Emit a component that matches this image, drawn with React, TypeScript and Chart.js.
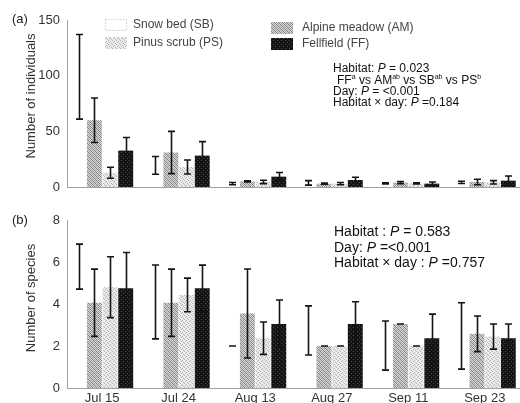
import React, { useEffect, useRef } from 'react';
import { Chart, registerables } from 'chart.js';

Chart.register(...registerables);

// ---------- data ----------
const dates = ['Jul 15', 'Jul 24', 'Aug 13', 'Aug 27', 'Sep 11', 'Sep 23'];
const seriesNames = ['Snow bed (SB)', 'Alpine meadow (AM)', 'Pinus scrub (PS)', 'Fellfield (FF)'];

// (a) number of individuals: mean and error
const indSB = [99, 19.4, 3, 3.7, 3.3, 4.2];
const indSBErr = [38, 8, 1, 2, 0.5, 1];
const indAM = [60, 31, 5, 3, 4, 4.5];
const indAMErr = [20, 19, 0.5, 0.5, 1, 2.5];
const indPS = [12.8, 18, 4.5, 3, 3.3, 4.2];
const indPSErr = [5, 6.3, 1.5, 1, 0.5, 1.5];
const indFF = [32.7, 28.2, 9.3, 6.3, 3, 5.7];
const indFFErr = [11.7, 12.6, 3.7, 2.4, 1.5, 4.2];

// (b) number of species: mean and error
const spSB = [5.78, 4.1, 2.0, 2.74, 2.02, 2.48];
const spSBErr = [1.07, 1.76, 0, 1.17, 1.17, 1.58];
const spAM = [4.06, 4.06, 3.55, 2.0, 3.05, 2.58];
const spAMErr = [1.6, 1.6, 2.12, 0, 0, 0.85];
const spPS = [4.8, 4.43, 2.37, 2.0, 2.0, 2.45];
const spPSErr = [1.45, 0.8, 0.77, 0, 0, 0.6];
const spFF = [4.75, 4.75, 3.05, 3.05, 2.37, 2.37];
const spFFErr = [1.7, 1.1, 1.14, 1.06, 1.15, 0.68];

const yTicksA = [0, 50, 100, 150];
const yTicksB = [0, 2, 4, 6, 8];

type Seg = [string, 'n' | 'i' | 's'];
const notesA: Seg[][] = [
  [['Habitat: ', 'n'], ['P', 'i'], [' = 0.023', 'n']],
  [['FF', 'n'], ['a', 's'], [' vs AM', 'n'], ['ab', 's'], [' vs SB', 'n'], ['ab', 's'], [' vs PS', 'n'], ['b', 's']],
  [['Day: ', 'n'], ['P', 'i'], [' = <0.001', 'n']],
  [['Habitat \u00d7 day: ', 'n'], ['P', 'i'], [' =0.184', 'n']],
];
const notesB: Seg[][] = [
  [['Habitat : ', 'n'], ['P', 'i'], [' = 0.583', 'n']],
  [['Day: ', 'n'], ['P', 'i'], [' =<0.001', 'n']],
  [['Habitat \u00d7 day : ', 'n'], ['P', 'i'], [' =0.757', 'n']],
];

const FONT = '"Liberation Sans", Arial, sans-serif';

function makeTile(rows: string[], colors: Record<string, string>) {
  const c = document.createElement('canvas');
  c.width = rows[0].length;
  c.height = rows.length;
  const ctx = c.getContext('2d')!;
  rows.forEach((r, y) => {
    for (let x = 0; x < r.length; x++) {
      ctx.fillStyle = colors[r[x]];
      ctx.fillRect(x, y, 1, 1);
    }
  });
  return ctx.createPattern(c, 'repeat')!;
}

function makeFills() {
  const am = makeTile(['DLML', 'LDLM', 'MLDL', 'LMLD'], { D: '#7e7e7e', M: '#a8a8a8', L: '#d6d6d6' });
  const ps = makeTile(['DLLL', 'LLDL', 'LDLL', 'LLLD'], { D: '#b4b4b4', L: '#ebebeb' });
  const ff = makeTile(['LDLL', 'LLLL', 'LLLD', 'LLLL'], { D: '#4a4a4a', L: '#141414' });
  return ['rgba(255,255,255,0)', am, ps, ff];
}

function drawSegs(ctx: CanvasRenderingContext2D, segs: Seg[], x: number, y: number, size: number) {
  let cx = x;
  ctx.textBaseline = 'middle';
  ctx.textAlign = 'left';
  for (const [t, s] of segs) {
    if (s === 's') {
      ctx.font = `${Math.round(size * 0.62)}px ${FONT}`;
      ctx.fillText(t, cx, y - size * 0.3);
    } else {
      ctx.font = `${s === 'i' ? 'italic ' : ''}${size}px ${FONT}`;
      ctx.fillText(t, cx, y);
    }
    cx += ctx.measureText(t).width;
  }
}

interface PanelCfg {
  means: number[][];
  errs: number[][];
  yTicks: number[];
  showX: boolean;
  padTop: number;
  xHeight: number;
  yTitle: string;
  titleY: number;
  panelLabel: string;
  labelY: number;
  notes: Seg[][];
  notesX: number[];
  notesY: number[];
  notesSize: number;
  legend: boolean;
}

function buildChart(canvas: HTMLCanvasElement, cfg: PanelCfg) {
  const fills = makeFills();
  const yMax = cfg.yTicks[cfg.yTicks.length - 1];
  const yStep = cfg.yTicks[1] - cfg.yTicks[0];

  const errorBars = {
    id: 'errorBars',
    afterDatasetsDraw(chart: any) {
      const ctx = chart.ctx;
      const ys = chart.scales.y;
      ctx.save();
      ctx.strokeStyle = '#141414';
      ctx.lineWidth = 1.6;
      cfg.means.forEach((m, d) => {
        const meta = chart.getDatasetMeta(d);
        meta.data.forEach((el: any, i: number) => {
          const e = cfg.errs[d][i];
          const x = Math.round(el.x) + 0.5;
          const top = ys.getPixelForValue(m[i] + e);
          const bot = ys.getPixelForValue(Math.max(m[i] - e, 0));
          ctx.beginPath();
          ctx.moveTo(x, top);
          ctx.lineTo(x, bot);
          ctx.moveTo(x - 3.5, top);
          ctx.lineTo(x + 3.5, top);
          ctx.moveTo(x - 3.5, bot);
          ctx.lineTo(x + 3.5, bot);
          ctx.stroke();
        });
      });
      ctx.restore();
    },
  };

  const decor = {
    id: 'decor',
    afterDraw(chart: any) {
      const ctx = chart.ctx;
      ctx.save();
      // panel label
      ctx.fillStyle = '#222';
      ctx.font = `13px ${FONT}`;
      ctx.textAlign = 'left';
      ctx.textBaseline = 'middle';
      ctx.fillText(cfg.panelLabel, 12, cfg.labelY);
      // y title
      ctx.save();
      ctx.translate(31, cfg.titleY);
      ctx.rotate(-Math.PI / 2);
      ctx.textAlign = 'center';
      ctx.fillStyle = '#333';
      ctx.font = `13px ${FONT}`;
      ctx.fillText(cfg.yTitle, 0, 0);
      ctx.restore();
      // notes
      ctx.fillStyle = '#111';
      cfg.notes.forEach((segs, k) => drawSegs(ctx, segs, cfg.notesX[k], cfg.notesY[k], cfg.notesSize));
      // legend
      if (cfg.legend) {
        const items = [
          { d: 0, sx: 105, sy: 19 },
          { d: 2, sx: 105, sy: 37 },
          { d: 1, sx: 271, sy: 22 },
          { d: 3, sx: 271, sy: 38 },
        ];
        items.forEach(({ d, sx, sy }) => {
          if (d === 0) {
            ctx.save();
            ctx.strokeStyle = '#b0b0b0';
            ctx.setLineDash([1, 2]);
            ctx.lineWidth = 1;
            ctx.strokeRect(sx + 0.5, sy + 0.5, 21, 11);
            ctx.restore();
          } else {
            ctx.fillStyle = fills[d] as any;
            ctx.fillRect(sx, sy, 22, 12);
          }
          ctx.fillStyle = '#444';
          ctx.font = `12px ${FONT}`;
          ctx.textAlign = 'left';
          ctx.textBaseline = 'middle';
          ctx.fillText(seriesNames[d], sx + (d === 0 || d === 2 ? 28 : 31), sy + 6);
        });
      }
      ctx.restore();
    },
  };

  const border = { display: true, color: '#a0a0a0', width: 1, dash: [1, 2] };

  return new Chart(canvas, {
    type: 'bar',
    data: {
      datasets: cfg.means.map((m, d) => ({
        label: seriesNames[d],
        data: m.map((v, i) => ({ x: i, y: v })),
        backgroundColor: fills[d] as any,
        borderWidth: 0,
        categoryPercentage: 0.82,
        barPercentage: 0.95,
      })),
    },
    options: {
      responsive: false,
      animation: false,
      events: [],
      layout: { padding: { top: cfg.padTop, right: 0, bottom: 0, left: 0 } },
      plugins: { legend: { display: false }, tooltip: { enabled: false } },
      scales: {
        x: {
          type: 'linear',
          min: -0.46,
          max: 5.46,
          offset: false,
          grid: { display: false, drawTicks: false },
          border,
          ticks: {
            display: cfg.showX,
            stepSize: 1,
            includeBounds: false,
            autoSkip: false,
            maxRotation: 0,
            padding: 3,
            color: '#333',
            font: { family: FONT, size: 13 },
            callback: (v: any) => dates[v] ?? '',
          },
          afterFit: (s: any) => {
            s.height = cfg.xHeight;
            s.paddingLeft = 0;
            s.paddingRight = 0;
          },
        },
        y: {
          min: 0,
          max: yMax,
          grid: { display: false, drawTicks: false },
          border,
          ticks: {
            stepSize: yStep,
            padding: 7,
            color: '#333',
            font: { family: FONT, size: 13 },
          },
          afterFit: (s: any) => {
            s.width = 67;
            s.paddingTop = 0;
            s.paddingBottom = 0;
          },
        },
      } as any,
    },
    plugins: [errorBars, decor],
  } as any);
}

export default function App() {
  const topRef = useRef<HTMLCanvasElement>(null);
  const botRef = useRef<HTMLCanvasElement>(null);

  useEffect(() => {
    const a = buildChart(topRef.current!, {
      means: [indSB, indAM, indPS, indFF],
      errs: [indSBErr, indAMErr, indPSErr, indFFErr],
      yTicks: yTicksA,
      showX: false,
      padTop: 20,
      xHeight: 8,
      yTitle: 'Number of individuals',
      titleY: 96,
      panelLabel: '(a)',
      labelY: 19,
      notes: notesA,
      notesX: [333, 337, 333, 333],
      notesY: [69, 81, 92, 103],
      notesSize: 12,
      legend: true,
    });
    const b = buildChart(botRef.current!, {
      means: [spSB, spAM, spPS, spFF],
      errs: [spSBErr, spAMErr, spPSErr, spFFErr],
      yTicks: yTicksB,
      showX: true,
      padTop: 25,
      xHeight: 15,
      yTitle: 'Number of species',
      titleY: 103,
      panelLabel: '(b)',
      labelY: 25,
      notes: notesB,
      notesX: [334, 334, 334],
      notesY: [37, 53, 68],
      notesSize: 14,
      legend: false,
    });
    return () => {
      a.destroy();
      b.destroy();
    };
  }, []);

  return (
    <div style={{ position: 'absolute', left: 0, top: 0, width: 520, height: 403, background: '#fff' }}>
      <canvas ref={topRef} width={520} height={195} style={{ display: 'block', width: 520, height: 195 }} />
      <canvas ref={botRef} width={520} height={208} style={{ display: 'block', width: 520, height: 208 }} />
    </div>
  );
}
